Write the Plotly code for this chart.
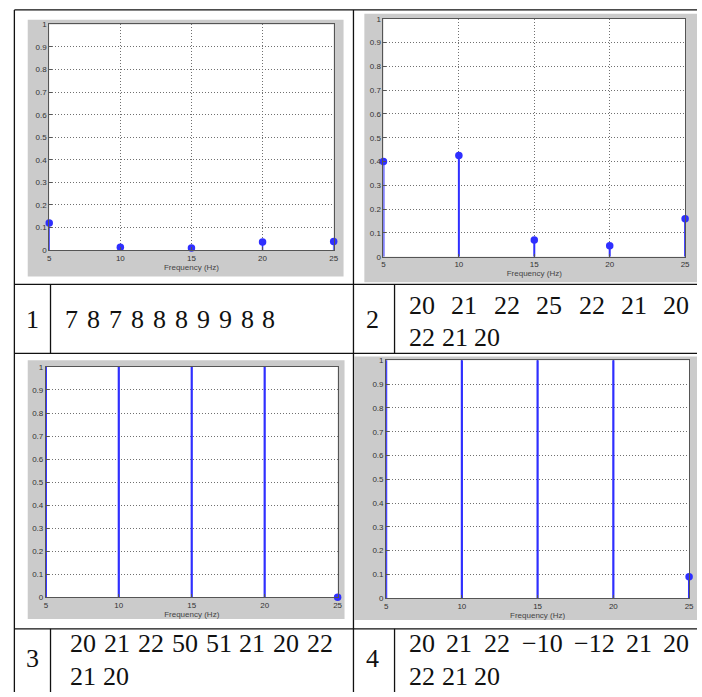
import plotly.graph_objects as go

W, H = 702, 697

# ---- data ----
freq = [5, 10, 15, 20, 25]
amp1 = [0.12, 0.012, 0.009, 0.036, 0.038]
amp2 = [0.40, 0.425, 0.07, 0.046, 0.16]
amp3 = [2.4, 1.9, 1.5, 1.3, 0.0]
amp4 = [2.2, 1.8, 1.4, 1.2, 0.09]
ytick_vals = [0, 0.1, 0.2, 0.3, 0.4, 0.5, 0.6, 0.7, 0.8, 0.9, 1]
ytick_text = ["0", "0.1", "0.2", "0.3", "0.4", "0.5", "0.6", "0.7", "0.8", "0.9", "1"]
xtick_vals = [5, 10, 15, 20, 25]
row_labels = ["1", "2", "3", "4"]
seq1 = ["7", "8", "7", "8", "8", "8", "9", "9", "8", "8"]
seq2a = ["20", "21", "22", "25", "22", "21", "20"]
seq2b = ["22", "21", "20"]
seq3a = ["20", "21", "22", "50", "51", "21", "20", "22"]
seq3b = ["21", "20"]
seq4a = ["20", "21", "22", "\u221210", "\u221212", "21", "20"]
seq4b = ["22", "21", "20"]


def px(x):
    return x / W


def py(y):
    return 1 - y / H


# layout boxes (pixels): plot area, gray panel
panels = [
    dict(amp=amp1, plot=(47.7, 20.7, 335, 249.3), gray=(26, 16, 345, 276), sw=1.5),
    dict(amp=amp2, plot=(385.3, 15, 690, 256), gray=(366, 10, 702, 282), sw=2),
    dict(amp=amp3, plot=(44.3, 367.7, 339, 601), gray=(26, 361, 346, 623), sw=2.2),
    dict(amp=amp4, plot=(388, 361, 694, 602), gray=(356, 357, 702, 624), sw=2.2),
]

BLUE = "#2f2fff"
fig = go.Figure()
shapes = []
annotations = []
layout_axes = {}

for i, p in enumerate(panels, start=1):
    xa = "x" if i == 1 else f"x{i}"
    ya = "y" if i == 1 else f"y{i}"
    sx, sy = [], []
    for f, a in zip(freq, p["amp"]):
        sx += [f, f, None]
        sy += [0, a, None]
    fig.add_trace(go.Scatter(x=sx, y=sy, mode="lines", xaxis=xa, yaxis=ya,
                             line=dict(color=BLUE, width=p["sw"]), showlegend=False,
                             hoverinfo="skip"))
    mx = [f for f, a in zip(freq, p["amp"]) if a <= 1]
    my = [a for a in p["amp"] if a <= 1]
    fig.add_trace(go.Scatter(x=mx, y=my, mode="markers", xaxis=xa, yaxis=ya,
                             marker=dict(color=BLUE, size=7.5), cliponaxis=False,
                             showlegend=False))
    x0, y0, x1, y1 = p["plot"]
    g0, h0, g1, h1 = p["gray"]
    shapes.append(dict(type="rect", xref="paper", yref="paper", x0=px(g0), x1=px(g1),
                       y0=py(h1), y1=py(h0), fillcolor="#cbcbcb", line=dict(width=0),
                       layer="below"))
    shapes.append(dict(type="rect", xref=f"{xa} domain", yref=f"{ya} domain", x0=0, x1=1,
                       y0=0, y1=1, fillcolor="white", line=dict(width=0), layer="below"))
    axcommon = dict(showline=True, mirror=True, linecolor="#555", linewidth=1,
                    ticks="inside", ticklen=3, tickcolor="#555", showgrid=True,
                    gridcolor="#707070", griddash="1px,2px", gridwidth=1, zeroline=False,
                    tickfont=dict(size=8, color="#333", family="Liberation Sans"))
    xname = "xaxis" if i == 1 else f"xaxis{i}"
    yname = "yaxis" if i == 1 else f"yaxis{i}"
    layout_axes[xname] = dict(axcommon, domain=[px(x0), px(x1)], range=[5, 25],
                              tickvals=xtick_vals, anchor=ya,
                              title=dict(text="Frequency (Hz)", standoff=2,
                                         font=dict(size=8, color="#444", family="Liberation Sans")))
    layout_axes[yname] = dict(axcommon, domain=[py(y1), py(y0)], range=[0, 1],
                              tickvals=ytick_vals, ticktext=ytick_text, anchor=xa)

# ---- table lines ----
LC = "#111"


def hline(y, xa, xb):
    shapes.append(dict(type="line", xref="paper", yref="paper", x0=px(xa), x1=px(xb),
                       y0=py(y), y1=py(y), line=dict(color=LC, width=1.3), layer="above"))


def vline(x, ya, yb):
    shapes.append(dict(type="line", xref="paper", yref="paper", x0=px(x), x1=px(x),
                       y0=py(ya), y1=py(yb), line=dict(color=LC, width=1.3), layer="above"))


hline(6, 12.5, 702)
hline(284, 12.5, 702)
hline(354, 12.5, 702)
hline(633, 12.5, 702)
vline(12.5, 6, 697)
vline(355, 6, 697)
vline(49, 284, 354)
vline(396.5, 284, 354)
vline(49, 633, 697)
vline(396.5, 633, 697)

# ---- text ----
FONT = "Liberation Serif"
FS = 26


def tok_w(t):
    w = 0
    for c in t:
        w += 0.564 * FS if c == "\u2212" else 0.5 * FS
    return w


def add_text(t, x, y, anchor="left"):
    annotations.append(dict(text=t, x=px(x), y=py(y), xref="paper", yref="paper",
                            xanchor=anchor, yanchor="middle", showarrow=False,
                            font=dict(family=FONT, size=FS, color="#111")))


def justify(tokens, xa, xb, y):
    widths = [tok_w(t) for t in tokens]
    gap = (xb - xa - sum(widths)) / (len(tokens) - 1)
    x = xa
    for t, w in zip(tokens, widths):
        add_text(t, x, y)
        x += w + gap


def plain(tokens, xa, y, gap):
    x = xa
    for t in tokens:
        add_text(t, x, y)
        x += tok_w(t) + gap


add_text(row_labels[0], 31, 320, "center")
add_text(row_labels[1], 374, 320, "center")
add_text(row_labels[2], 31, 663, "center")
add_text(row_labels[3], 374, 663, "center")

justify(seq1, 62, 274, 320)
justify(seq2a, 409, 692, 305)
plain(seq2b, 409, 338, 7)
justify(seq3a, 67, 332, 648)
plain(seq3b, 67, 681, 7)
justify(seq4a, 409, 692, 648)
plain(seq4b, 409, 681, 7)

fig.update_layout(width=W, height=H, margin=dict(l=0, r=0, t=0, b=0),
                  paper_bgcolor="white", plot_bgcolor="white",
                  shapes=shapes, annotations=annotations, showlegend=False,
                  **layout_axes)

fig.write_html("out.html", config={"displayModeBar": False},
               post_script="document.body.style.margin='0';document.body.style.overflow='hidden';")
